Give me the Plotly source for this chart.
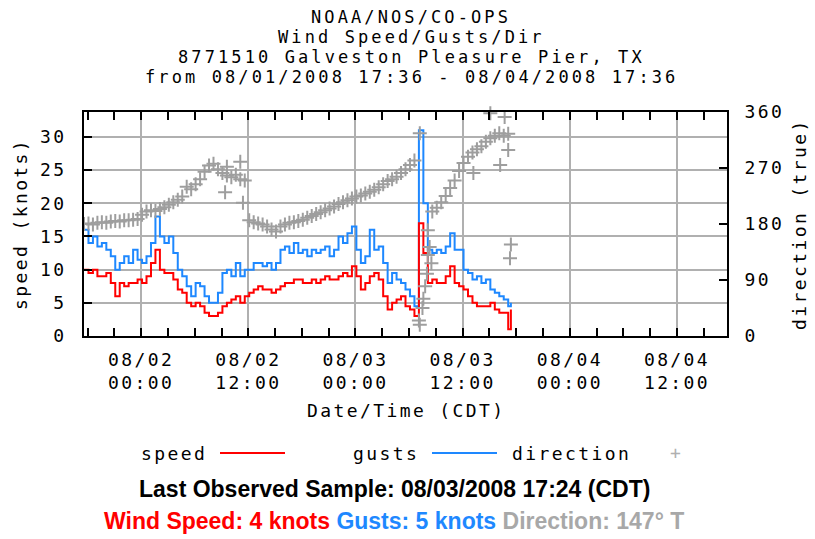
import pandas as pd
import plotly.graph_objects as go

# ---------------- data ----------------
times = list(pd.date_range("2008-08-01 17:36", periods=96, freq="30min")) + [pd.Timestamp("2008-08-03 17:24")]

speed = [
    10, 9.5, 10, 9, 9, 9.5, 8, 6, 8, 7.5,
    8, 8, 8.5, 8, 9, 11, 13, 10, 9.5, 9.5,
    8.5, 7, 6.5, 5, 4.5, 5, 4.5, 3.5, 3, 3,
    3.5, 4.5, 5, 5.5, 6, 5, 6, 6.5, 7, 7.5,
    7, 7, 6.5, 7, 7.5, 8, 8, 8.5, 8.5, 8,
    8, 8.5, 8, 8.5, 9, 8.5, 8.5, 9, 9.5, 9,
    10.5, 9, 7, 8, 9, 9.5, 8.5, 6, 4, 5,
    5.5, 6, 4.5, 4, 3, 17, 12.5, 8, 8.5, 8,
    8, 9, 10.5, 8, 7.5, 7, 6, 5, 4.5, 4.5,
    4.5, 5, 4, 3.5, 3.5, 1,
    4,
]

gusts = [
    16, 14, 15, 13.5, 14, 13, 12, 10, 11, 12,
    11, 13, 11.5, 11, 12, 14, 18, 15, 14, 15,
    12.5, 10, 9, 7.5, 6, 8, 7.5, 6, 5, 5,
    6.5, 9.5, 10, 9, 11, 9, 10, 10, 11, 11,
    10.5, 11, 10, 11, 13, 13.5, 12.5, 14, 12.5, 13,
    12, 13, 12.5, 13, 13.5, 12, 13, 15, 14, 15.5,
    16.5, 13, 11, 12, 16, 13, 13.5, 11, 8, 9.5,
    8.5, 8, 7, 6, 4.5, 31, 20, 13, 12.5, 13,
    12.5, 13.5, 15.5, 13, 13, 10, 9.5, 8.5, 9, 8,
    8.5, 7, 6.5, 6, 5.5, 4.5,
    5,
]

direction = [
    180, 181, 179, 182, 183, 182, 184, 185, 184, 186,
    186, 187, 188, 195, 200, 202, 201, 204, 207, 211,
    215, 219, 224, 240, 236, 244, 252, 264, 274, 277,
    268, 262, 258, 255, 259, 252, 250, 186, 183, 181,
    179, 176, 171, 168, 176, 179, 182, 183, 185, 187,
    190, 193, 196, 199, 202, 205, 208, 212, 215, 218,
    221, 224, 226, 229, 232, 235, 239, 244, 249, 252,
    256, 262, 268, 275, 282, 25, 60, 130, 200, 206,
    215, 225, 238, 250, 265, 278, 288, 295, 300, 305,
    312, 318, 322, 326, 322, 325,
    147,
]

# scattered direction samples off the main band
dir_extra_times = [
    "2008-08-02 09:24", "2008-08-02 09:36", "2008-08-02 11:06", "2008-08-02 11:24",
    "2008-08-03 07:12", "2008-08-03 07:12", "2008-08-03 07:30", "2008-08-03 07:48",
    "2008-08-03 08:00", "2008-08-03 08:06", "2008-08-03 08:18", "2008-08-03 08:30",
    "2008-08-03 13:12", "2008-08-03 15:06", "2008-08-03 16:12", "2008-08-03 16:42",
    "2008-08-03 17:06", "2008-08-03 17:18",
]
dir_extra = [231, 272, 280, 214, 326, 18, 45, 80, 100, 170, 143, 117, 262, 358, 275, 352, 299, 125]

x_range = ["2008-08-01 17:36", "2008-08-04 17:36"]
x_tickvals = ["2008-08-02 00:00", "2008-08-02 12:00", "2008-08-03 00:00",
              "2008-08-03 12:00", "2008-08-04 00:00", "2008-08-04 12:00"]
x_ticklabels = [("08/02", "00:00"), ("08/02", "12:00"), ("08/03", "00:00"),
                ("08/03", "12:00"), ("08/04", "00:00"), ("08/04", "12:00")]
speed_ticks = [0, 5, 10, 15, 20, 25, 30]
dir_ticks = [0, 90, 180, 270, 360]
title_lines = [
    "NOAA/NOS/CO-OPS",
    "Wind Speed/Gusts/Dir",
    "8771510 Galveston Pleasure Pier, TX",
    "from 08/01/2008 17:36 - 08/04/2008 17:36",
]

# ---------------- styling ----------------
RED = "#FF0000"
BLUE = "#1E88FF"
GRAY = "#9E9E9E"
GRID = "#B0B0B0"
MONO = "DejaVu Sans Mono"
SANS = "Liberation Sans, Arial, sans-serif"
FS = 18
LS = "2.4px"

W, H = 815, 539
L, R, T, B = 84, 727, 112, 336


def px(x):
    return (x - L) / (R - L)


def py(y):
    return (B - y) / (B - T)


def sp(s, ls=LS):
    return f"<span style='letter-spacing:{ls}'>{s}</span>"


fig = go.Figure()
fig.add_trace(go.Scatter(x=times, y=gusts, mode="lines", line=dict(color=BLUE, width=2, shape="hv"),
                         name="gusts"))
fig.add_trace(go.Scatter(x=times, y=speed, mode="lines", line=dict(color=RED, width=2, shape="hv"),
                         name="speed"))
fig.add_trace(go.Scatter(x=times, y=direction, mode="markers", yaxis="y2", name="direction",
                         marker=dict(symbol="cross-thin", size=10, line=dict(color=GRAY, width=2))))
fig.add_trace(go.Scatter(x=pd.to_datetime(dir_extra_times), y=dir_extra, mode="markers", yaxis="y2",
                         showlegend=False, cliponaxis=False,
                         marker=dict(symbol="cross-thin", size=10, line=dict(color=GRAY, width=2))))

fig.update_layout(
    width=W, height=H,
    margin=dict(l=L, r=W - R, t=T, b=H - B, autoexpand=False),
    paper_bgcolor="white", plot_bgcolor="white",
    showlegend=False,
    font=dict(family=MONO, size=FS, color="black"),
    xaxis=dict(
        type="date", range=x_range,
        tickmode="array", tickvals=x_tickvals,
        ticktext=[sp(a) + "<br>" + sp(b) for a, b in x_ticklabels],
        ticks="inside", ticklen=8, tickwidth=2, tickcolor="black",
        showgrid=True, gridcolor=GRID, gridwidth=2,
        showline=True, linecolor="black", linewidth=2, mirror="allticks",
        zeroline=False,
        minor=dict(dtick=3 * 3600 * 1000, tick0="2008-08-02 00:00", ticks="inside",
                   ticklen=4, tickwidth=1.5, tickcolor="black", showgrid=False),
        tickfont=dict(family=MONO, size=FS),
        ticklabelstandoff=6,
    ),
    yaxis=dict(
        range=[0, 33.75], tickmode="array", tickvals=speed_ticks,
        ticktext=[sp(str(v)) for v in speed_ticks],
        ticks="inside", ticklen=8, tickwidth=2, tickcolor="black",
        showgrid=True, gridcolor=GRID, gridwidth=2,
        showline=True, linecolor="black", linewidth=2,
        zeroline=False, tickfont=dict(family=MONO, size=FS),
        ticklabelstandoff=12,
    ),
    yaxis2=dict(
        range=[0, 360], tickmode="array", tickvals=dir_ticks,
        ticktext=[sp(str(v)) for v in dir_ticks],
        overlaying="y", side="right",
        ticks="inside", ticklen=8, tickwidth=2, tickcolor="black",
        showgrid=False, showline=True, linecolor="black", linewidth=2,
        zeroline=False, tickfont=dict(family=MONO, size=FS),
        ticklabelstandoff=12,
    ),
)

ann = []
for i, t in enumerate(title_lines):
    ann.append(dict(text=sp(t, "3.1px"), x=px(411), y=py(17 + 20 * i), xref="paper", yref="paper",
                    showarrow=False, xanchor="center", yanchor="middle",
                    font=dict(family=MONO, size=17, color="black")))
ann.append(dict(text=sp("speed (knots)"), x=px(20), y=py(224), xref="paper", yref="paper",
                textangle=-90, showarrow=False, xanchor="center", yanchor="middle"))
ann.append(dict(text=sp("direction (true)"), x=px(799), y=py(224), xref="paper", yref="paper",
                textangle=-90, showarrow=False, xanchor="center", yanchor="middle"))
ann.append(dict(text=sp("Date/Time (CDT)"), x=px(406), y=py(410), xref="paper", yref="paper",
                showarrow=False, xanchor="center", yanchor="middle"))
# legend
ann.append(dict(text=sp("speed"), x=px(139), y=py(453), xref="paper", yref="paper",
                showarrow=False, xanchor="left", yanchor="middle"))
ann.append(dict(text=sp("gusts"), x=px(351), y=py(453), xref="paper", yref="paper",
                showarrow=False, xanchor="left", yanchor="middle"))
ann.append(dict(text=sp("direction"), x=px(510), y=py(453), xref="paper", yref="paper",
                showarrow=False, xanchor="left", yanchor="middle"))
ann.append(dict(text="+", x=px(675), y=py(452), xref="paper", yref="paper",
                showarrow=False, xanchor="center", yanchor="middle",
                font=dict(family=MONO, size=FS, color="#B0B0B0")))
# bottom status text
ann.append(dict(text="<b>Last Observed Sample: 08/03/2008 17:24 (CDT)</b>", x=px(394), y=py(489),
                xref="paper", yref="paper", showarrow=False, xanchor="center", yanchor="middle",
                font=dict(family=SANS, size=23, color="black")))
ann.append(dict(text=(f"<b><span style='color:{RED}'>Wind Speed: 4 knots</span> "
                      f"<span style='color:{BLUE}'>Gusts: 5 knots</span> "
                      f"<span style='color:#A8A8A8'>Direction: 147° T</span></b>"),
                x=px(394), y=py(521), xref="paper", yref="paper", showarrow=False,
                xanchor="center", yanchor="middle", font=dict(family=SANS, size=23, color="black")))

shapes = [
    dict(type="line", xref="paper", yref="paper", x0=px(220), x1=px(285), y0=py(453), y1=py(453),
         line=dict(color=RED, width=2)),
    dict(type="line", xref="paper", yref="paper", x0=px(432), x1=px(497), y0=py(453), y1=py(453),
         line=dict(color=BLUE, width=2)),
]
fig.update_layout(annotations=ann, shapes=shapes)

fig.write_html("out.html", config={"displayModeBar": False},
               post_script="document.body.style.margin='0px';")
